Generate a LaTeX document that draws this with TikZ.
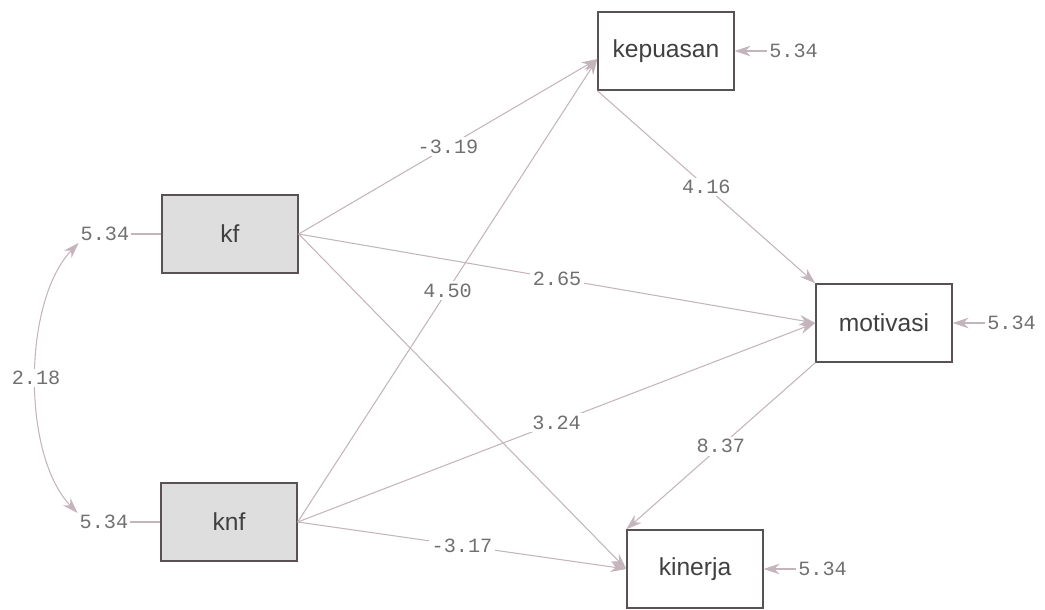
\documentclass[tikz,border=0pt]{standalone}
\usepackage{fontspec}
\setsansfont{Liberation Sans}
\setmonofont{Liberation Mono}
\usetikzlibrary{arrows.meta,positioning,calc}
\definecolor{boxline}{HTML}{5A5252}
\definecolor{pathline}{HTML}{C4B4BC}
\definecolor{numtext}{HTML}{707070}
\tikzset{
    varbox/.style={
        draw=boxline,
        thick,
        rectangle,
        minimum width=2.72cm,
        minimum height=1.56cm,
        text=black!75,
        font=\sffamily\fontsize{14}{16}\selectfont
    },
    exobox/.style={
        varbox,
        fill=black!13
    },
    errval/.style={
        text=numtext,
        inner sep=1pt,
        font=\ttfamily\fontsize{11.5}{13}\selectfont
    },
    coef/.style={
        errval,
        fill=white,
        inner sep=1.5pt
    },
    link/.style={
        draw=pathline,
        semithick,
        -{Stealth[length=9pt,width=6pt]}
    },
}

\begin{document}
\begin{tikzpicture}[x=0.02cm, y=-0.02cm, node distance=0.6cm]
    \useasboundingbox (0,0) rectangle (1045,609);
    % variables
    \node[exobox] (kf) at (230,234) {kf};
    \node[exobox] (knf) at (229,522) {knf};
    \node[varbox] (kepuasan) at (666,51) {kepuasan};
    \node[varbox] (motivasi) at (884,323) {motivasi};
    \node[varbox] (kinerja) at (695,569) {kinerja};
    % error variances
    \node[errval, left=of kf] (ekf) {5.34};
    \node[errval, left=of knf] (eknf) {5.34};
    \node[errval, right=0.65cm of kepuasan] (ekep) {5.34};
    \node[errval, right=0.65cm of motivasi] (emot) {5.34};
    \node[errval, right=0.65cm of kinerja] (ekin) {5.34};
    % entry points
    \coordinate (kepin) at ($(kepuasan.west)+(0,8)$);

    % lines
    \draw[draw=pathline, semithick] (ekf) -- (kf);
    \draw[draw=pathline, semithick] (eknf) -- (knf);
    \draw[link] (ekep) -- (kepuasan);
    \draw[link] (emot) -- (motivasi);
    \draw[link] (ekin) -- (kinerja);
    \draw[link, {Stealth[length=9pt,width=6pt]}-{Stealth[length=9pt,width=6pt]}] (ekf.south west) .. controls +(-56,58) and +(-56,-58) .. (eknf.north west) node[coef, midway] {2.18};

    \draw[link] (kf.east) -- node[coef] {-3.19} (kepin);
    \draw[link] (knf.east) -- node[coef] {4.50} (kepin);
    \draw[link] (kf.east) -- node[coef] {2.65} (motivasi.west);
    \draw[link] (knf.east) -- node[coef] {3.24} (motivasi.west);
    \draw[link] (kf.east) -- (kinerja.west);
    \draw[link] (knf.east) -- node[coef] {-3.17} (kinerja.west);
    \draw[link] (kepuasan.south west) -- node[coef] {4.16} (motivasi.north west);
    \draw[link] (motivasi.south west) -- node[coef] {8.37} (kinerja.north west);
\end{tikzpicture}
\end{document}
